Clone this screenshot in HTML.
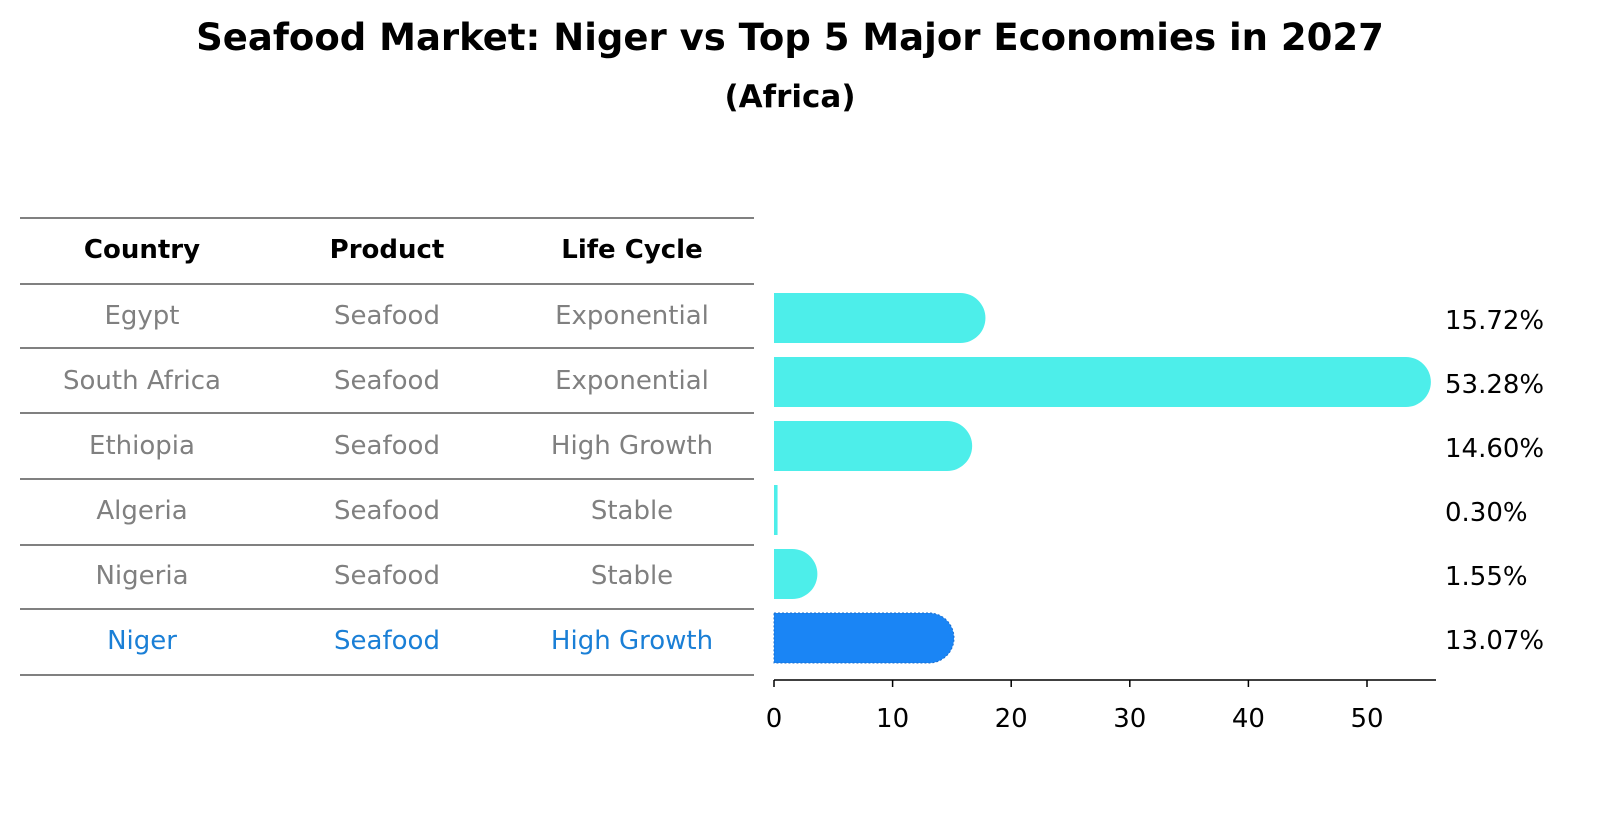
<!DOCTYPE html>
<html><head><meta charset="utf-8"><style>
body{margin:0;background:#fff;font-family:"Liberation Sans","DejaVu Sans",sans-serif;}
svg text{font-family:"DejaVu Sans","Liberation Sans",sans-serif;}
</style></head><body>
<svg width="1604" height="823" viewBox="0 0 1604 823" xmlns="http://www.w3.org/2000/svg">
<text x="790" y="50" text-anchor="middle" font-size="37" font-weight="bold">Seafood Market: Niger vs Top 5 Major Economies in 2027</text>
<text x="790" y="107" text-anchor="middle" font-size="31" font-weight="bold">(Africa)</text>
<g id="table"></g>
<g id="bars"></g>
</svg>
<script>
const countries=["Egypt","South Africa","Ethiopia","Algeria","Nigeria","Niger"];
const products=["Seafood","Seafood","Seafood","Seafood","Seafood","Seafood"];
const lifeCycles=["Exponential","Exponential","High Growth","Stable","Stable","High Growth"];
const shares=[15.72,53.28,14.60,0.30,1.55,13.07];
const ticks=[0,10,20,30,40,50];
const NS="http://www.w3.org/2000/svg";
function mk(tag,attrs,parent){const e=document.createElementNS(NS,tag);for(const k in attrs)e.setAttribute(k,attrs[k]);parent.appendChild(e);return e;}
const tbl=document.getElementById('table');
const lineYs=[218,284,348,413,479,545,609,675];
lineYs.forEach((y,i)=>{const l=mk('line',{x1:20,x2:754,y1:y,y2:y,stroke:'#000','stroke-width':1},tbl);

});
const colX=[142,387,632];
["Country","Product","Life Cycle"].forEach((h,i)=>{const t=mk('text',{x:colX[i],y:258,'text-anchor':'middle','font-size':26,'font-weight':'bold'},tbl);t.textContent=h;

});
const rowCY=[315,380,445,510,575,640];
countries.forEach((c,r)=>{const col=r===5?'#1a7fd6':'#808080';
[c,products[r],lifeCycles[r]].forEach((v,i)=>{const t=mk('text',{x:colX[i],y:rowCY[r]+9,'text-anchor':'middle','font-size':26,fill:col},tbl);t.textContent=v;

});});
const bars=document.getElementById('bars');
const x0=774,pxPer=11.86;
const xs=v=>x0+v*pxPer;
const bandY=i=>318+i*64;
const bh=50,rad=25;
shares.forEach((v,i)=>{const cy=bandY(i),top=cy-bh/2,xe=xs(v),w=xe-x0;
const col=i===5?'#1a85f5':'#4deeea';
let d;
if(w<10){d=`M${x0},${top}H${xe}V${top+bh}H${x0}Z`;}
else{d=`M${x0},${top}H${xe}A${rad},${rad} 0 0 1 ${xe},${top+bh}H${x0}Z`;}
const p=mk('path',{d:d,fill:col},bars);
if(i===5){p.setAttribute('stroke','#1a6fd0');p.setAttribute('stroke-dasharray','2,2');p.setAttribute('stroke-width','1');}


const t=mk('text',{x:1445,y:cy+11,'font-size':26},bars);t.textContent=v.toFixed(2)+'%';

});
const ax=mk('line',{x1:x0,x2:1436,y1:680,y2:680,stroke:'#000','stroke-width':1.5},bars);


ticks.forEach(tv=>{const x=xs(tv);
const tk=mk('line',{x1:x,x2:x,y1:680,y2:687,stroke:'#000','stroke-width':1.5},bars);


const t=mk('text',{x:x,y:727,'text-anchor':'middle','font-size':26},bars);t.textContent=tv;

});
</script>
</body></html>
